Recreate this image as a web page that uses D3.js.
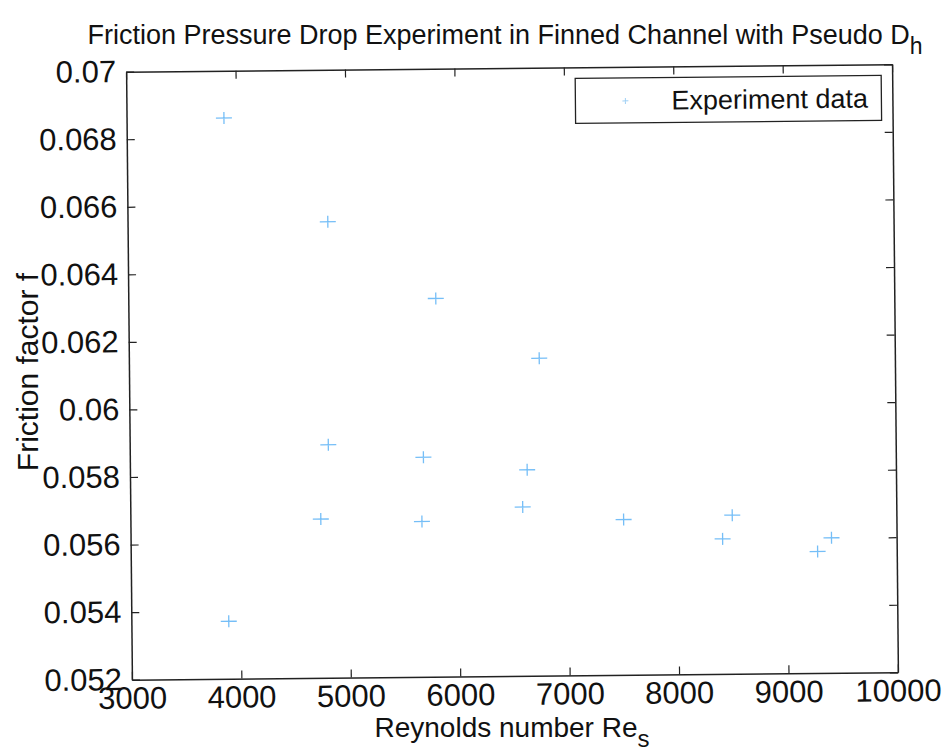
<!DOCTYPE html>
<html>
<head>
<meta charset="utf-8">
<script src="https://cdn.jsdelivr.net/npm/d3@7"></script>
<style>
  body { margin: 0; background: #fff; }
  text { font-family: "Liberation Sans", Arial, sans-serif; fill: #111; }
</style>
</head>
<body>
<div id="chart"></div>
<script>
// Reynolds number and friction factor
var reynolds = [3890, 4830, 5810, 6750, 4815, 5683, 6630, 6586, 4740, 5664, 7507, 8500, 8410, 9405, 9277, 3890];
var friction = [0.0686, 0.0655, 0.0632, 0.0614, 0.0589, 0.0585, 0.0581, 0.0570, 0.0567, 0.0566, 0.0566, 0.0567, 0.0560, 0.0560, 0.0556, 0.0537];
var xTicks = [3000, 4000, 5000, 6000, 7000, 8000, 9000, 10000];
var yTicks = [0.052, 0.054, 0.056, 0.058, 0.06, 0.062, 0.064, 0.066, 0.068, 0.07];

var W = 944, H = 754;
var m = {left: 129, right: 49, top: 68, bottom: 78};

var svg = d3.select("#chart").append("svg")
	.attr("width", W)
	.attr("height", H);

// the scan is tilted a little
var root = svg.append("g").attr("transform", "rotate(-0.55, 512, 372)");

var x = d3.scaleLinear().domain([3000, 10000]).range([m.left, W - m.right]);
var y = d3.scaleLinear().domain([0.052, 0.07]).range([H - m.bottom, m.top]);

// axes, MATLAB style ticks pointing in
function fmtY(d) { return String(+d.toFixed(3)); }

function styleAxis(g) {
	g.select(".domain").attr("stroke", "#222").attr("stroke-width", 1.5);
	g.selectAll(".tick line").attr("stroke", "#222").attr("stroke-width", 1.2);
	g.selectAll(".tick text").attr("font-size", 31).attr("fill", "#111")
		.attr("font-family", "Liberation Sans, Arial, sans-serif");
}

root.append("g")
	.attr("transform", "translate(0," + (H - m.bottom) + ")")
	.call(d3.axisBottom(x).tickValues(xTicks).tickSizeInner(-8).tickSizeOuter(0).tickPadding(7).tickFormat(d3.format("d")))
	.call(styleAxis);

root.append("g")
	.attr("transform", "translate(0," + m.top + ")")
	.call(d3.axisTop(x).tickValues(xTicks).tickSizeInner(-8).tickSizeOuter(0).tickFormat(""))
	.call(styleAxis);

root.append("g")
	.attr("transform", "translate(" + m.left + ",0)")
	.call(d3.axisLeft(y).tickValues(yTicks).tickSizeInner(-8).tickSizeOuter(0).tickPadding(10).tickFormat(fmtY))
	.call(styleAxis);

root.append("g")
	.attr("transform", "translate(" + (W - m.right) + ",0)")
	.call(d3.axisRight(y).tickValues(yTicks).tickSizeInner(-8).tickSizeOuter(0).tickFormat(""))
	.call(styleAxis);

// data markers ('+')
var plus = "M-8,0H8M0,-6V6";
root.append("g").selectAll("path")
	.data(d3.range(reynolds.length))
	.enter().append("path")
	.attr("d", plus)
	.attr("transform", function(i) { return "translate(" + x(reynolds[i]) + "," + y(friction[i]) + ")"; })
	.attr("fill", "none")
	.attr("stroke", "#52aef5")
	.attr("stroke-width", 1.3)
	.attr("opacity", 0.8);

// legend
var leg = root.append("g").attr("transform", "translate(578,79)");
leg.append("rect")
	.attr("width", 306).attr("height", 45)
	.attr("fill", "#fff").attr("stroke", "#222").attr("stroke-width", 1.3);
leg.append("path")
	.attr("d", "M-3,0H3M0,-3V3")
	.attr("transform", "translate(50,23)")
	.attr("stroke", "#9fd0f5").attr("stroke-width", 1);
leg.append("text")
	.attr("x", 96).attr("y", 32)
	.attr("font-size", 27)
	.text("Experiment data");

// title
var title = svg.append("text")
	.attr("x", 505).attr("y", 44)
	.attr("text-anchor", "middle")
	.attr("font-size", 27);
title.append("tspan").text("Friction Pressure Drop Experiment in Finned Channel with Pseudo D");
title.append("tspan").attr("dy", 10).attr("font-size", 23).text("h");

// axis labels
var xl = svg.append("text")
	.attr("x", 512).attr("y", 737)
	.attr("text-anchor", "middle")
	.attr("font-size", 28);
xl.append("tspan").text("Reynolds number Re");
xl.append("tspan").attr("dy", 10).attr("font-size", 24).text("s");

svg.append("text")
	.attr("transform", "translate(38,372) rotate(-90)")
	.attr("text-anchor", "middle")
	.attr("font-size", 30)
	.text("Friction factor f");
</script>
</body>
</html>
